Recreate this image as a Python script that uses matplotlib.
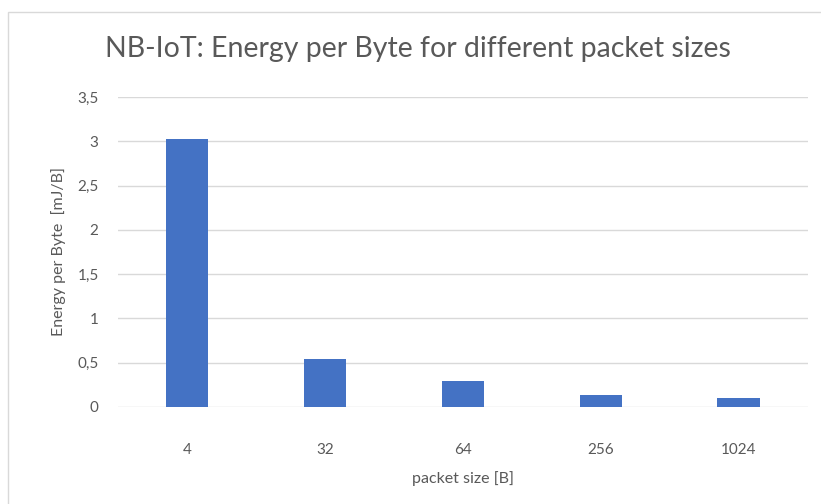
import numpy as np
import matplotlib
matplotlib.use("Agg")
import matplotlib.pyplot as plt
from matplotlib.patches import Rectangle

# data
packet_sizes = ["4", "32", "64", "256", "1024"]
energy_per_byte = [3.03, 0.545, 0.297, 0.139, 0.10]
y_ticks = [0, 0.5, 1, 1.5, 2, 2.5, 3, 3.5]
y_tick_labels = ["0", "0,5", "1", "1,5", "2", "2,5", "3", "3,5"]

plt.rcParams['font.family'] = ['Lato', 'DejaVu Sans']
text_color = '#595959'

fig = plt.figure(figsize=(8.21, 5.04), dpi=100)
ax = fig.add_axes([0.1437, 0.1925, 0.8403, 0.615])

# chart border
fig.patches.append(Rectangle((8 / 821, -0.01), 1.0, (504 - 12) / 504 + 0.01,
                             transform=fig.transFigure, fill=False,
                             edgecolor='#d9d9d9', linewidth=1))

x = np.arange(len(packet_sizes))
ax.bar(x, energy_per_byte, width=0.31, color='#4472c4', zorder=3)

ax.set_xlim(-0.5, len(packet_sizes) - 0.5)
ax.set_ylim(0, 3.5)
ax.set_yticks(y_ticks)
ax.set_yticklabels(y_tick_labels)
ax.set_xticks(x)
ax.set_xticklabels(packet_sizes)
ax.yaxis.grid(True, color='#d9d9d9', linewidth=1, zorder=0)
for s in ax.spines.values():
    s.set_visible(False)
ax.tick_params(axis='both', length=0, labelsize=11, colors=text_color)
ax.tick_params(axis='y', pad=14)
ax.tick_params(axis='x', pad=26)

ax.set_xlabel("packet size [B]", fontsize=11.5, color=text_color, labelpad=10)
ax.set_ylabel("Energy per Byte  [mJ/B]", fontsize=11.5, color=text_color, labelpad=8)
fig.text(0.509, 0.902, "NB-IoT: Energy per Byte for different packet sizes",
         ha='center', va='center', fontsize=20.5, color=text_color)

fig.savefig("out.png", dpi=100)
